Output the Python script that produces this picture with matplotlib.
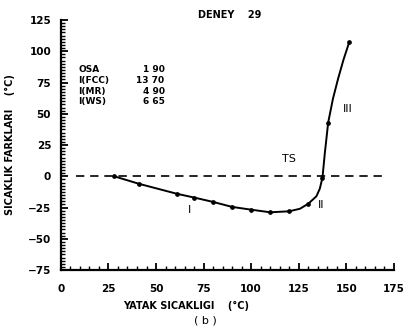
import matplotlib
matplotlib.use("Agg")
import matplotlib.pyplot as plt
from matplotlib.ticker import MultipleLocator

bed_temp = [28, 41, 61, 70, 80, 90, 100, 110, 120, 130, 137.5, 140.5, 151.5]
temp_diff = [0, -6, -14, -17, -20.5, -24.5, -26.7, -28.8, -28, -22, -1, 43, 107]

# Drawn curve (includes bends between markers)
curve_x = [28, 41, 61, 70, 80, 90, 100, 110, 120, 125.6, 130, 134.3, 136.1,
           137.5, 138.7, 140.5, 143, 145.7, 148.5, 151.5]
curve_y = [0, -6, -14, -17, -20.5, -24.5, -26.7, -28.8, -28, -26, -22, -16, -9.9,
           -1, 18, 43, 62, 78, 93, 107]

param_names = ["OSA", "I(FCC)", "I(MR)", "I(WS)"]
param_values = ["1 90", "13 70", "4 90", "6 65"]

region_labels = ["I", "II", "III", "TS"]
region_x = [67, 135, 148, 116]
region_y = [-27, -23, 54, 14]

fig = plt.figure(figsize=(4.06, 3.33), dpi=100)
ax = fig.add_axes([0.150, 0.189, 0.820, 0.751])

ax.axhline(0, xmin=8 / 175, xmax=171 / 175, color="black", lw=1.2, ls=(0, (5, 3.5)))
ax.plot(curve_x, curve_y, color="black", lw=1.4)
ax.plot(bed_temp, temp_diff, color="black", lw=0, marker="o", ms=2.4)

ax.set_xlim(0, 175)
ax.set_ylim(-75, 125)
ax.xaxis.set_major_locator(MultipleLocator(25))
ax.xaxis.set_minor_locator(MultipleLocator(5))
ax.yaxis.set_major_locator(MultipleLocator(25))
ax.yaxis.set_minor_locator(MultipleLocator(2.5))
for s in ["top", "right"]:
    ax.spines[s].set_visible(False)
for s in ["left", "bottom"]:
    ax.spines[s].set_linewidth(1.6)
ax.tick_params(which="major", direction="in", length=5, width=1.3, labelsize=7.5)
ax.tick_params(axis="x", which="major", pad=10)
ax.tick_params(axis="y", which="major", pad=7)
ax.tick_params(which="minor", direction="in", length=3, width=1.0)
for lbl in ax.get_xticklabels() + ax.get_yticklabels():
    lbl.set_fontweight("bold")

ax.set_ylabel("SICAKLIK FARKLARI    (°C)", fontsize=7, fontweight="bold")
ax.yaxis.set_label_coords(-0.137, 0.5)
ax.set_xlabel("YATAK SICAKLIGI    (°C)", fontsize=7, fontweight="bold")
ax.xaxis.set_label_coords(0.375, -0.125)
fig.text(0.505, 0.038, "( b )", ha="center", va="center", fontsize=8)
fig.text(0.565, 0.955, "DENEY    29", ha="center", va="center", fontsize=7, fontweight="bold")

row_y = [85.5, 76.5, 68, 60]
for name, val, yy in zip(param_names, param_values, row_y):
    ax.text(9, yy, name, fontsize=6.5, fontweight="bold", va="center", ha="left")
    ax.text(54.5, yy, val, fontsize=6.5, fontweight="bold", va="center", ha="right")

for lab, xx, yy in zip(region_labels, region_x, region_y):
    ax.text(xx, yy, lab, fontsize=8, va="center", ha="left")

fig.savefig("out.png", dpi=100)
